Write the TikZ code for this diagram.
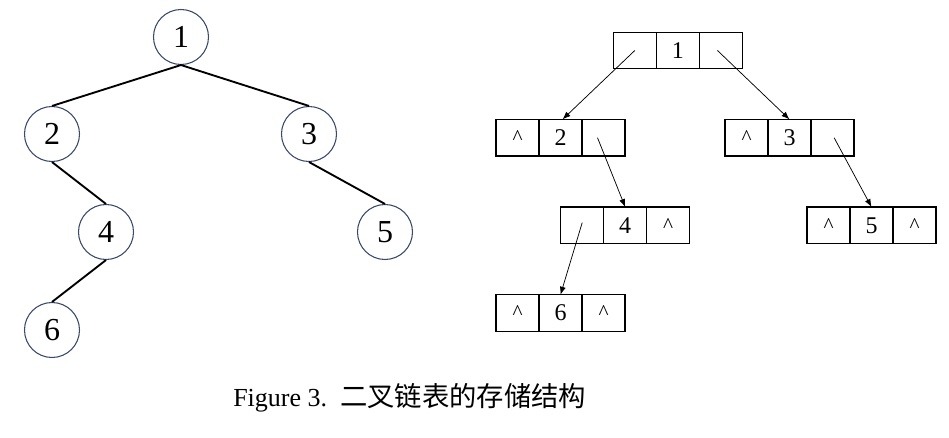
\documentclass[tikz,border=0pt]{standalone}
\usepackage{fontspec}
\setmainfont{Liberation Serif}
\newfontfamily\cjk{Noto Sans CJK SC}
\usetikzlibrary{arrows.meta}
\definecolor{ringcol}{HTML}{3B4A6B}
\tikzset{
  treenode/.style={circle, draw=ringcol, line width=0.8pt, minimum size=41.25pt, inner sep=0pt, font=\fontsize{24}{24}\selectfont},
  treeedge/.style={line width=1.4pt, black},
  cell/.style={rectangle, draw=black, line width=0.9pt, minimum width=32.25pt, minimum height=27.4pt, inner sep=0pt, outer sep=0pt, font=\fontsize{18}{18}\selectfont},
  ptr/.style={line width=0.55pt, -{Latex[length=6pt,width=4.5pt]}},
}
\newcommand{\nul}{{\fontsize{16}{16}\selectfont\textasciicircum}}
\begin{document}
\begin{tikzpicture}[x=0.75pt,y=-0.75pt]
\useasboundingbox (0,0) rectangle (949,438);
% binary tree
\node[treenode] (t1) at (181,37) {1};
\node[treenode] (t2) at (52,134) {2};
\node[treenode] (t3) at (309,134) {3};
\node[treenode] (t4) at (106,232) {4};
\node[treenode] (t5) at (385,232) {5};
\node[treenode] (t6) at (52,330) {6};
\draw[treeedge] (t1.south) -- (t2.north);
\draw[treeedge] (t1.south) -- (t3.north);
\draw[treeedge] (t2.south) -- (t4.north);
\draw[treeedge] (t3.south) -- (t5.north);
\draw[treeedge] (t4.south) -- (t6.north);
% linked storage
\node[cell] (a1l) at (634.8,50.5) {};
\node[cell] (a1d) at (677.8,50.5) {1};
\node[cell] (a1r) at (720.8,50.5) {};
\node[cell] (a2l) at (517.5,137.7) {\nul};
\node[cell] (a2d) at (560.5,137.7) {2};
\node[cell] (a2r) at (603.5,137.7) {};
\node[cell] (a3l) at (746.5,137.7) {\nul};
\node[cell] (a3d) at (789.5,137.7) {3};
\node[cell] (a3r) at (832.5,137.7) {};
\node[cell] (a4l) at (582.2,225.3) {};
\node[cell] (a4d) at (625.2,225.3) {4};
\node[cell] (a4r) at (668.2,225.3) {\nul};
\node[cell] (a5l) at (828.5,225.3) {\nul};
\node[cell] (a5d) at (871.5,225.3) {5};
\node[cell] (a5r) at (914.5,225.3) {\nul};
\node[cell] (a6l) at (517.5,313) {\nul};
\node[cell] (a6d) at (560.5,313) {6};
\node[cell] (a6r) at (603.5,313) {\nul};
\draw[ptr] (a1l.center) -- ([xshift=1.5pt]a2d.north);
\draw[ptr] ([xshift=-2.5pt]a1r.center) -- (a3d.north);
\draw[ptr] ([xshift=-4.5pt]a2r.center) -- (a4d.north);
\draw[ptr] ([xshift=1.2pt]a3r.center) -- (a5d.north);
\draw[ptr] ([yshift=2pt]a4l.center) -- (a6d.north);
% caption
\node[anchor=base west, inner sep=0pt, font=\fontsize{19.5}{19.5}\selectfont] (capa) at (233,406.7) {Figure 3.};
\node[anchor=base west, inner sep=0pt, font=\fontsize{20.5}{20.5}\selectfont\cjk] (capb) at (340,406.7) {二叉链表的存储结构};
\end{tikzpicture}
\end{document}
